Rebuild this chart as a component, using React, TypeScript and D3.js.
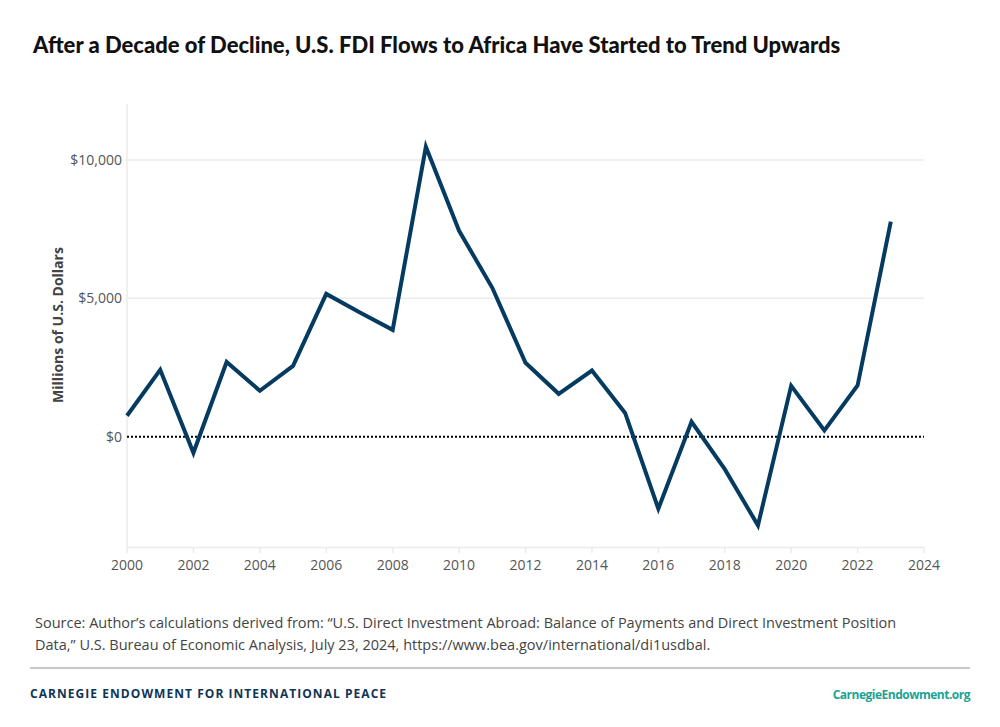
import React from "react";
import * as d3 from "d3";

const years = [2000,2001,2002,2003,2004,2005,2006,2007,2008,2009,2010,2011,2012,2013,2014,2015,2016,2017,2018,2019,2020,2021,2022,2023];
const flows = [760,2420,-580,2700,1660,2560,5160,4500,3860,10470,7440,5380,2670,1550,2390,860,-2600,540,-1170,-3200,1840,230,1850,7770];
const yTicks = [0,5000,10000];
const xTicks = [2000,2002,2004,2006,2008,2010,2012,2014,2016,2018,2020,2022,2024];

const W = 1000, H = 727;
const FONT = "'Source Sans Pro', 'Open Sans', Roboto, sans-serif";

export default function App() {
  const x = d3.scaleLinear().domain([2000, 2024]).range([127, 924]);
  const y = d3.scaleLinear().domain([-4000, 12000]).range([547.5, 104.5]);
  const line = d3.line<number>().x((_, i) => x(years[i])).y((d) => y(d));
  const fmt = (v: number) => "$" + d3.format(",")(v);
  return (
    <svg width={W} height={H} style={{ position: "absolute", left: 0, top: 0, background: "#fff" }}>
      <rect width={W} height={H} fill="#fff" />
      <text x={33} y={53} fontFamily="Lato, sans-serif" fontWeight={900} fontSize={22} fill="#111">
        After a Decade of Decline, U.S. FDI Flows to Africa Have Started to Trend Upwards
      </text>
      {yTicks.filter(t => t !== 0).map(t => (
        <line key={t} x1={127} x2={924} y1={y(t)} y2={y(t)} stroke="#ebebeb" strokeWidth={1.5} />
      ))}
      <line x1={127} x2={127} y1={104} y2={547} stroke="#ebebeb" strokeWidth={1.5} />
      <line x1={127} x2={924} y1={547.5} y2={547.5} stroke="#ebebeb" strokeWidth={1.5} />
      {xTicks.map(t => (
        <g key={t}>
          <line x1={x(t)} x2={x(t)} y1={547.5} y2={553} stroke="#ebebeb" strokeWidth={1.5} />
          <text x={x(t)} y={570} textAnchor="middle" fontFamily={FONT} fontSize={14} fill="#555">{t}</text>
        </g>
      ))}
      {yTicks.map(t => (
        <text key={t} x={122} y={y(t) + 5} textAnchor="end" fontFamily={FONT} fontSize={14} fill="#555">{fmt(t)}</text>
      ))}
      <line x1={127} x2={924} y1={y(0)} y2={y(0)} stroke="#000" strokeWidth={2} strokeDasharray="2,2" />
      <text transform={`translate(63,325) rotate(-90)`} textAnchor="middle" fontFamily={FONT} fontWeight={700} fontSize={14} fill="#444">
        Millions of U.S. Dollars
      </text>
      <path d={line(flows) || ""} fill="none" stroke="#053b61" strokeWidth={4} strokeLinejoin="miter" />
      <text x={35} y={628} fontFamily={FONT} fontSize={14.5} fill="#444">
        Source: Author’s calculations derived from: “U.S. Direct Investment Abroad: Balance of Payments and Direct Investment Position
      </text>
      <text x={35} y={650} fontFamily={FONT} fontSize={14.5} fill="#444">
        Data,” U.S. Bureau of Economic Analysis, July 23, 2024, https://www.bea.gov/international/di1usdbal.
      </text>
      <line x1={30} x2={970} y1={668} y2={668} stroke="#c8c8c8" strokeWidth={2} />
      <text x={30} y={698} fontFamily={FONT} fontWeight={700} fontSize={12} letterSpacing={1.05} fill="#0f3556">
        CARNEGIE ENDOWMENT FOR INTERNATIONAL PEACE
      </text>
      <text x={970} y={699} textAnchor="end" fontFamily={FONT} fontWeight={700} fontSize={12} letterSpacing={-0.5} fill="#1aa394">
        CarnegieEndowment.org
      </text>
    </svg>
  );
}
